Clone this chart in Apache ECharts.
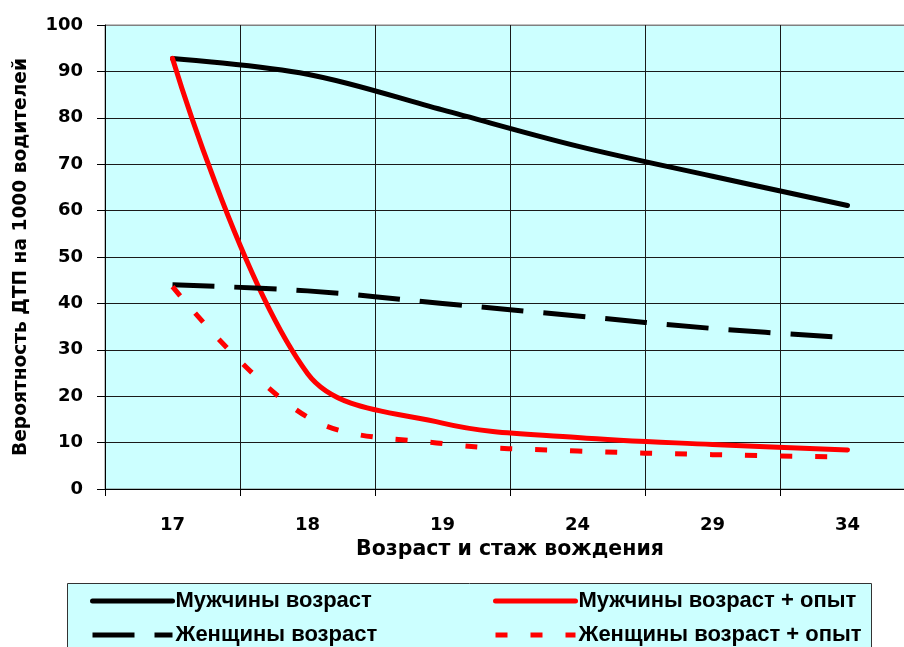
<!DOCTYPE html>
<html>
<head>
<meta charset="utf-8">
<script src="https://cdn.jsdelivr.net/npm/echarts@6/dist/echarts.min.js"></script>
<style>
  html, body { margin: 0; padding: 0; background: #ffffff; overflow: hidden; width: 904px; height: 647px; }
  #chart { width: 920px; height: 647px; }
</style>
</head>
<body>
<div id="chart"></div>
<script>
// ---- data ----
const categories = ['17', '18', '19', '24', '29', '34'];
const menAge = [92.8, 89.4, 81.7, 73.9, 67.4, 61.1];
const menAgeExp = [92.8, 24.9, 14.2, 11.1, 9.6, 8.4];
const womenAge = [44.0, 42.7, 40.0, 37.3, 34.6, 32.6];
const womenAgeExp = [43.6, 15.5, 9.8, 8.2, 7.4, 6.9];
const seriesNames = ['Мужчины возраст', 'Мужчины возраст + опыт', 'Женщины возраст', 'Женщины возраст + опыт'];
const yTicks = [0, 10, 20, 30, 40, 50, 60, 70, 80, 90, 100];

const ARIAL = 'Arial, "Liberation Sans", sans-serif';
const WIDE = '"DejaVu Sans", Verdana, sans-serif';
const SMOOTH = 0.35;

const chart = echarts.init(document.getElementById('chart'), null, { renderer: 'canvas' });

function lineSeries(name, data, color, type, cap) {
  return {
    name: name,
    type: 'line',
    data: data,
    smooth: SMOOTH,
    symbol: 'none',
    showSymbol: false,
    lineStyle: { color: color, width: 5, type: type, cap: cap, join: 'round' },
    itemStyle: { color: color },
    animation: false,
    z: 3
  };
}

function legendAt(name, left, top) {
  return {
    data: [name],
    left: left,
    top: top,
    orient: 'horizontal',
    itemWidth: 80,
    itemHeight: 14,
    itemGap: 0,
    selectedMode: false,
    padding: 0,
    textStyle: { fontFamily: ARIAL, fontWeight: 'bold', fontSize: 22, color: '#000', padding: [0, 0, 0, -2] },
    lineStyle: { width: 5 },
    itemStyle: { opacity: 0 }
  };
}

const gridColors = yTicks.map(function (t, i) { return i === yTicks.length - 1 ? '#808080' : '#1a1a1a'; });

const option = {
  backgroundColor: '#ffffff',
  animation: false,
  grid: {
    left: 105, top: 25, width: 810, height: 464,
    show: true, backgroundColor: '#CCFFFF', borderColor: '#808080', borderWidth: 1
  },
  graphic: [{
    type: 'rect',
    shape: { x: 67.5, y: 583.5, width: 804, height: 100 },
    style: { fill: '#CCFFFF', stroke: '#333333', lineWidth: 1 },
    z: -1, silent: true
  }],
  legend: [
    legendAt(seriesNames[0], 90, 590),
    legendAt(seriesNames[1], 493, 590),
    legendAt(seriesNames[2], 90, 624),
    legendAt(seriesNames[3], 493, 624)
  ],
  xAxis: {
    type: 'category',
    data: categories,
    boundaryGap: true,
    name: 'Возраст и стаж вождения',
    nameLocation: 'middle',
    nameGap: 46,
    nameTextStyle: { fontFamily: WIDE, fontWeight: 'bold', fontSize: 20.5, color: '#000' },
    axisLine: { show: true, lineStyle: { color: '#000', width: 1 } },
    axisTick: { show: true, length: 7, inside: false, alignWithLabel: false, lineStyle: { color: '#000' } },
    axisLabel: { fontFamily: WIDE, fontWeight: 'bold', fontSize: 18, color: '#000', margin: 27 },
    splitLine: { show: true, lineStyle: { color: '#1a1a1a', width: 1 } }
  },
  yAxis: {
    type: 'value',
    min: yTicks[0],
    max: yTicks[yTicks.length - 1],
    interval: yTicks[1] - yTicks[0],
    name: 'Вероятность ДТП на 1000 водителей',
    nameLocation: 'middle',
    nameGap: 74,
    nameTextStyle: { fontFamily: WIDE, fontWeight: 'bold', fontSize: 18.6, color: '#000' },
    axisLine: { show: true, lineStyle: { color: '#000', width: 1 } },
    axisTick: { show: true, length: 8, inside: false, lineStyle: { color: '#000' } },
    axisLabel: { fontFamily: WIDE, fontWeight: 'bold', fontSize: 18, color: '#000', margin: 22 },
    splitLine: { show: true, lineStyle: { color: gridColors, width: 1 } }
  },
  series: [
    lineSeries(seriesNames[0], menAge, '#000000', 'solid', 'round'),
    lineSeries(seriesNames[1], menAgeExp, '#FF0000', 'solid', 'round'),
    lineSeries(seriesNames[2], womenAge, '#000000', [42, 20], 'butt'),
    lineSeries(seriesNames[3], womenAgeExp, '#FF0000', [12, 23], 'butt')
  ]
};

chart.setOption(option);
</script>
</body>
</html>
